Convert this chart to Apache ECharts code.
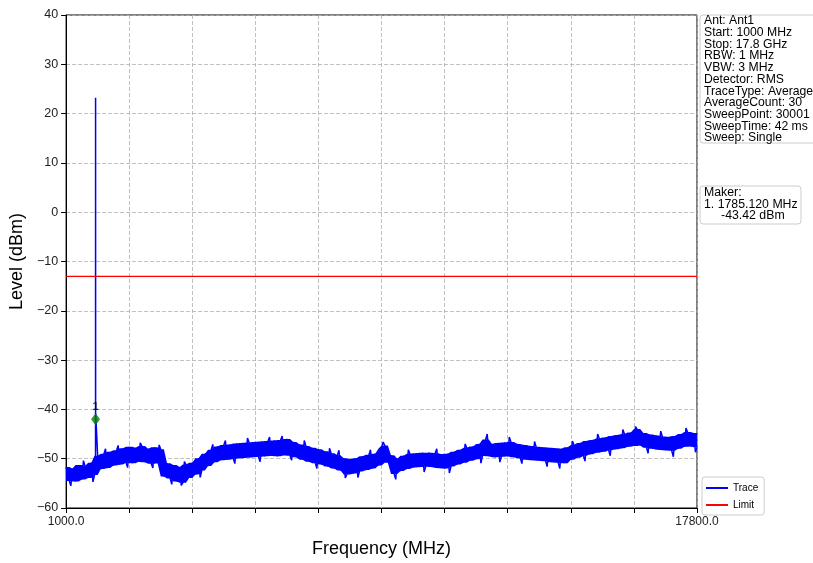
<!DOCTYPE html>
<html>
<head>
<meta charset="utf-8">
<script src="https://cdn.jsdelivr.net/npm/echarts@6/dist/echarts.min.js"></script>
<style>html,body{margin:0;padding:0;background:#fff}#c{width:813px;height:563px}</style>
</head>
<body>
<div id="c"></div>
<script>
// Sweep grid (uniform display grid of the trace)
const sweepStart = 1000;
const sweepStep = 84;
// Trace levels (dBm), one per grid point
const traceLevels = [
-51.7,-54.5,-52.0,-54.6,-51.3,-54.2,-51.5,-53.9,-50.8,-53.3,
-49.4,-52.1,-49.0,-51.9,-48.6,-51.4,-48.3,-51.2,-47.9,-50.8,
-47.6,-50.9,-47.8,-50.6,-47.4,-50.7,-48.0,-51.0,-47.7,-50.9,
-48.1,-53.6,-50.9,-54.0,-51.3,-54.6,-51.7,-54.9,-51.2,-53.9,
-50.8,-53.2,-49.9,-52.4,-49.0,-51.5,-48.2,-50.7,-47.5,-50.3,
-47.2,-50.2,-47.1,-50.0,-46.9,-49.9,-46.8,-49.8,-46.7,-49.7,
-46.6,-49.6,-46.5,-49.5,-46.4,-49.4,-46.3,-49.5,-46.2,-49.3,
-46.0,-49.4,-46.6,-49.7,-47.1,-50.2,-47.4,-50.6,-47.8,-50.9,
-48.1,-51.2,-48.5,-51.6,-48.9,-52.0,-49.3,-52.4,-49.9,-53.2,
-50.1,-53.0,-49.9,-52.6,-49.5,-52.3,-49.2,-52.0,-49.0,-51.4,
-48.0,-47.3,-50.8,-49.3,-53.1,-50.0,-52.5,-49.4,-52.1,-49.0,
-51.8,-48.9,-51.7,-48.8,-51.6,-48.8,-51.7,-48.9,-51.9,-49.1,
-52.0,-49.0,-51.6,-48.6,-51.2,-48.2,-50.8,-47.8,-50.4,-47.5,
-50.1,-47.0,-49.4,-46.1,-49.5,-47.0,-49.7,-46.8,-49.6,-46.7,
-49.5,-46.6,-49.7,-47.0,-49.9,-47.2,-50.2,-47.4,-50.3,-47.6,
-50.4,-47.7,-50.5,-47.8,-50.7,-47.9,-50.8,-48.0,-50.9,-47.7,
-50.2,-47.2,-49.8,-46.8,-49.4,-46.4,-49.1,-46.2,-48.8,-45.9,
-48.6,-45.7,-48.3,-45.4,-48.1,-45.2,-47.9,-45.0,-47.6,-44.7,
-47.4,-44.0,-47.3,-44.8,-47.8,-45.1,-48.0,-45.3,-48.2,-45.5,
-48.3,-45.6,-48.4,-45.4,-48.0,-45.0,-47.6,-44.6,-47.5,-44.8,
-47.7
];
// Narrow noise excursions of the trace (MHz, dBm)
const noiseFreqs = [1126,1462,1714,2050,2386,2638,2974,3310,3478,3814,4066,4150,4570,4906,5242,5494,5830,6166,6418,6754,
  7006,7342,7678,8014,8266,8434,8770,9106,9442,9778,10114,10534,10870,11206,11626,12046,12214,12550,12802,13138,
  13474,13810,14146,14482,14818,15154,15490,15826,16162,16498,16834,17170,17506,17758];
const noiseLevels = [-55.5,-50.4,-54.7,-48.0,-47.3,-51.8,-46.8,-51.9,-47.2,-55.2,-55.4,-50.6,-53.8,-47.1,-46.3,-51.0,-45.8,-50.6,-45.6,-45.4,
  -50.3,-46.3,-52.0,-47.9,-48.3,-53.9,-53.8,-48.2,-46.6,-54.2,-48.2,-52.7,-48.0,-52.9,-47.0,-50.9,-45.0,-50.7,-45.6,-51.0,
  -46.5,-51.6,-52.0,-46.4,-50.5,-45.0,-49.4,-44.1,-43.5,-48.9,-44.4,-49.6,-43.8,-48.7];
// Narrow carrier spike
const spikeFreqs = [1784, 1785, 1786];
const spikeLevels = [-50.3, 23.2, -40.5];
// Limit line
const limitFreqs = [1000, 17800];
const limitLevels = [-13, -13];
// Marker
const markerFreq = 1785.12;
const markerLevel = -42.0;
// Axis settings
const xMin = 1000, xMax = 17800, xInterval = 1680;
const yMin = -60, yMax = 40, yInterval = 10;
const infoLines = ['Ant: Ant1','Start: 1000 MHz','Stop: 17.8 GHz','RBW: 1 MHz','VBW: 3 MHz','Detector: RMS','TraceType: Average','AverageCount: 30','SweepPoint: 30001','SweepTime: 42 ms','Sweep: Single'];
const makerLines = ['Maker:','1. 1785.120 MHz','     -43.42 dBm'];

const freqAt = i => sweepStart + i * sweepStep;
const trace = traceLevels.map((v, i) => [freqAt(i), v]);
noiseFreqs.forEach((f, i) => trace.push([f, noiseLevels[i]]));
spikeFreqs.forEach((f, i) => trace.push([f, spikeLevels[i]]));
trace.sort((a, b) => a[0] - b[0]);
const limit = limitFreqs.map((f, i) => [f, limitLevels[i]]);
// band filling the space swept by the noisy trace between neighbouring points
const nb = i => [traceLevels[i - 1], traceLevels[i], traceLevels[i + 1]].filter(v => v !== undefined);
const bandLow = traceLevels.map((v, i) => [freqAt(i), Math.min(...nb(i))]);
const bandHigh = traceLevels.map((v, i) => [freqAt(i), Math.max(...nb(i))]);

const FONT = '"Liberation Sans", Arial, sans-serif';
const minus = v => String(v).replace('-', '\u2212');
const chart = echarts.init(document.getElementById('c'));
chart.setOption({
  animation: false,
  backgroundColor: '#fff',
  grid: { left: 66, right: 116, top: 15, bottom: 52, show: true, borderColor: '#000', borderWidth: 1, backgroundColor: 'transparent' },
  xAxis: {
    type: 'value', min: xMin, max: xMax, interval: xInterval,
    name: 'Frequency (MHz)', nameLocation: 'middle', nameGap: 32,
    nameTextStyle: { fontSize: 18, color: '#000', fontFamily: FONT },
    axisLine: { onZero: false, lineStyle: { color: '#000', width: 1 } },
    axisTick: { show: true, length: 5, lineStyle: { color: '#000' } },
    axisLabel: { fontSize: 12, color: '#222', fontFamily: FONT, margin: 8,
      formatter: v => (v === xMin || v === xMax) ? v.toFixed(1) : '' },
    splitLine: { show: true, lineStyle: { color: '#b0b0b0', type: [4, 2], width: 0.8 } }
  },
  yAxis: {
    type: 'value', min: yMin, max: yMax, interval: yInterval,
    name: 'Level (dBm)', nameLocation: 'middle', nameGap: 40, nameRotate: 90,
    nameTextStyle: { fontSize: 18, color: '#000', fontFamily: FONT },
    axisLine: { show: true, onZero: false, lineStyle: { color: '#000', width: 1 } },
    axisTick: { show: true, length: 5, lineStyle: { color: '#000' } },
    axisLabel: { fontSize: 12.5, color: '#222', fontFamily: FONT, margin: 8, formatter: minus },
    splitLine: { show: true, lineStyle: { color: '#b0b0b0', type: [4, 2], width: 0.8 } }
  },
  legend: {
    orient: 'vertical', left: 702, top: 477, itemWidth: 22, itemHeight: 2, itemGap: 7,
    backgroundColor: '#fff', borderColor: '#ccc', borderWidth: 1, borderRadius: 3,
    padding: [6, 6, 5, 4],
    textStyle: { fontSize: 10, color: '#000', fontFamily: FONT },
    data: [{ name: 'Trace', icon: 'rect' }, { name: 'Limit', icon: 'rect' }]
  },
  series: [
    { name: 'band', type: 'custom', data: [0], silent: true, z: 2, clip: true,
      renderItem: (params, api) => {
        const pts = bandHigh.map(p => api.coord(p)).concat(bandLow.slice().reverse().map(p => api.coord(p)));
        return { type: 'polygon', shape: { points: pts }, style: { fill: '#0000ff', stroke: null } };
      } },
    { name: 'Trace', type: 'line', data: trace, showSymbol: false, symbol: 'none',
      lineStyle: { color: '#0000ff', width: 1.5 }, itemStyle: { color: '#0000ff' }, z: 3 },
    { name: 'Limit', type: 'line', data: limit, showSymbol: false, symbol: 'none',
      lineStyle: { color: '#ff0000', width: 1.2 }, itemStyle: { color: '#ff0000' }, z: 4 },
    { name: 'Marker', type: 'scatter', data: [[markerFreq, markerLevel]], symbol: 'diamond', symbolSize: [9, 12],
      itemStyle: { color: '#008000' }, z: 5,
      label: { show: true, formatter: '1', position: 'top', distance: 1, fontSize: 11, fontWeight: 'bold', color: '#000', fontFamily: FONT } }
  ],
  graphic: [
    { type: 'rect', shape: { x: 700, y: 15, width: 125, height: 128, r: 3 }, style: { fill: 'rgba(255,255,255,0.9)', stroke: '#ccc', lineWidth: 1 } },
    { type: 'text', left: 704, top: 15, style: { text: infoLines.join('\n'), font: '12.2px ' + FONT, lineHeight: 11.7, fill: '#000' } },
    { type: 'rect', shape: { x: 700, y: 186, width: 101, height: 38, r: 3 }, style: { fill: 'rgba(255,255,255,0.9)', stroke: '#ccc', lineWidth: 1 } },
    { type: 'text', left: 704, top: 187, style: { text: makerLines.join('\n'), font: '12.3px ' + FONT, lineHeight: 11.2, fill: '#000' } }
  ]
});
</script>
</body>
</html>
